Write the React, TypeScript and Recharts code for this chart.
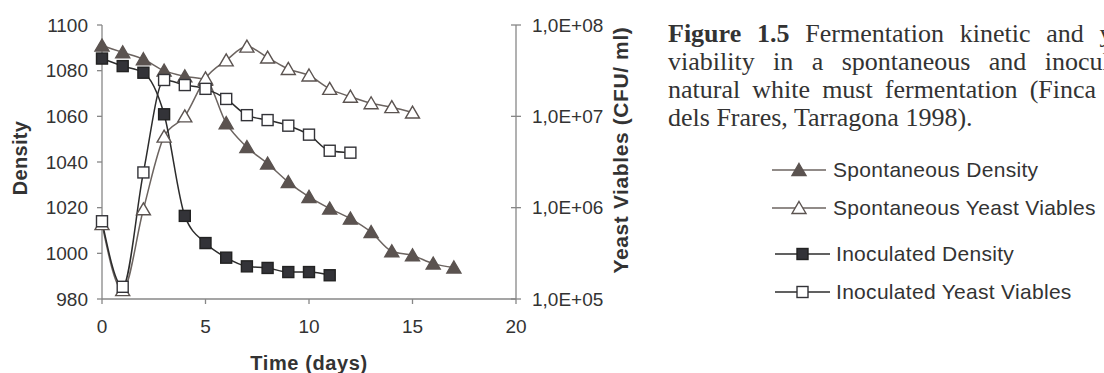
import { LineChart, Line, XAxis, YAxis, Legend } from "recharts";

// time axis (days)
const spDensityDays = [0, 1, 2, 3, 4, 5, 6, 7, 8, 9, 10, 11, 12, 13, 14, 15, 16, 17];
const spDensity = [1091, 1088, 1085, 1080, 1077.5, 1076, 1057, 1046.5, 1039.3, 1031.2, 1024.7, 1019.6, 1015.2, 1009.3, 1000.9, 999.1, 995.5, 993.8];

const spYeastDays = [0, 1, 2, 3, 4, 5, 6, 7, 8, 9, 10, 11, 12, 13, 14, 15];
const spYeast = [6.6e5, 1.25e5, 9.6e5, 6.0e6, 1.0e7, 2.6e7, 4.1e7, 5.8e7, 4.4e7, 3.3e7, 2.8e7, 2.0e7, 1.64e7, 1.39e7, 1.26e7, 1.1e7];

const inDensityDays = [0, 1, 2, 3, 4, 5, 6, 7, 8, 9, 10, 11];
const inDensity = [1085.3, 1082, 1079.1, 1060.9, 1016.4, 1004.5, 998.1, 994.3, 993.6, 991.8, 991.8, 990.4];

const inYeastDays = [0, 1, 2, 3, 4, 5, 6, 7, 8, 9, 10, 11, 12];
const inYeast = [7.1e5, 1.36e5, 2.43e6, 2.5e7, 2.2e7, 2.0e7, 1.55e7, 1.03e7, 9.1e6, 7.9e6, 6.3e6, 4.2e6, 4.0e6];

const xTicks = [0, 5, 10, 15, 20];
const densityTicks = [980, 1000, 1020, 1040, 1060, 1080, 1100];
const yeastTicks = [1e5, 1e6, 1e7, 1e8];

const captionLines = [
  "Fermentation kinetic and yeast",
  "viability in a spontaneous and inoculated",
  "natural white must fermentation (Finca Mas",
  "dels Frares, Tarragona 1998).",
];

const toRows = (days: number[], vals: number[]) => days.map((d, i) => ({ day: d, v: vals[i] }));

const SP = "#5b5350";
const SP_LINE = "#6c6460";
const IN = "#333338";
const IN_LINE = "#2c2c2c";
const AXIS = "#878787";
const TEXT = "#333";
const FONT = "'Liberation Sans', Arial, sans-serif";

type Shape = "tri" | "sq";

function Marker({ cx, cy, shape, filled, color }: { cx: number; cy: number; shape: Shape; filled: boolean; color: string }) {
  if (cx == null || cy == null) return null;
  if (shape === "tri") {
    return (
      <path
        d={`M${cx},${cy - 6.5} L${cx + 7},${cy + 5.5} L${cx - 7},${cy + 5.5} Z`}
        fill={filled ? color : "#fff"}
        stroke={color}
        strokeWidth={1.4}
      />
    );
  }
  return (
    <rect
      x={cx - 5.5}
      y={cy - 5.5}
      width={11}
      height={11}
      fill={filled ? color : "#fff"}
      stroke={filled ? "#222" : color}
      strokeWidth={1.4}
    />
  );
}

const dotFor = (name: string, shape: Shape, filled: boolean, color: string) => (p: any) => (
  <Marker key={`${name}-${p.index}`} cx={p.cx} cy={p.cy} shape={shape} filled={filled} color={color} />
);

const legendItems = [
  { label: "Spontaneous Density", shape: "tri" as Shape, filled: true, color: SP, line: SP_LINE, top: 170, x0: 772, x1: 826, tx: 833 },
  { label: "Spontaneous Yeast Viables", shape: "tri" as Shape, filled: false, color: SP, line: SP_LINE, top: 208, x0: 772, x1: 826, tx: 833 },
  { label: "Inoculated Density", shape: "sq" as Shape, filled: true, color: IN, line: IN_LINE, top: 254, x0: 775, x1: 830, tx: 836 },
  { label: "Inoculated Yeast Viables", shape: "sq" as Shape, filled: false, color: IN, line: IN_LINE, top: 292, x0: 775, x1: 830, tx: 836 },
];

function LegendBox() {
  return (
    <div style={{ position: "relative", width: 334, height: 170 }}>
      {legendItems.map((it) => {
        const cy = it.top - 150;
        const w = it.x1 - it.x0;
        return (
          <div key={it.label}>
            <svg style={{ position: "absolute", left: it.x0 - 770, top: cy - 10 }} width={w} height={20}>
              <line x1={0} x2={w} y1={10} y2={10} stroke={it.line} strokeWidth={1.5} />
              <Marker cx={w / 2} cy={10} shape={it.shape} filled={it.filled} color={it.color} />
            </svg>
            <span
              style={{
                position: "absolute",
                left: it.tx - 770,
                top: cy - 13,
                fontFamily: FONT,
                fontSize: 21,
                lineHeight: "25px",
                color: TEXT,
                whiteSpace: "nowrap",
                letterSpacing: 0.3,
              }}
            >
              {it.label}
            </span>
          </div>
        );
      })}
    </div>
  );
}

const RightTick = (p: any) => {
  const axisX = p.x - 16;
  const exp = Math.round(Math.log10(p.payload.value));
  return (
    <g>
      <line x1={axisX - 5} x2={axisX + 5} y1={p.y} y2={p.y} stroke={AXIS} strokeWidth={1.3} />
      <text x={p.x} y={p.y} dy="0.355em" textAnchor="start" fill={TEXT} fontSize={19} fontFamily={FONT}>
        {`1,0E+${String(exp).padStart(2, "0")}`}
      </text>
    </g>
  );
};

const rotatedTitle = (text: string, cx: number, cy: number, size: number, spacing: number) => (
  <text
    x={cx}
    y={cy}
    transform={`rotate(-90 ${cx} ${cy})`}
    textAnchor="middle"
    dominantBaseline="central"
    fontFamily={FONT}
    fontWeight="bold"
    fontSize={size}
    letterSpacing={spacing}
    fill={TEXT}
  >
    {text}
  </text>
);

export default function App() {
  return (
    <div style={{ position: "relative", width: 1104, height: 373, overflow: "hidden", background: "#fff" }}>
      <style>{`body{margin:0;overflow:hidden;}`}</style>
      <LineChart width={1104} height={373} margin={{ top: 25, right: 478, bottom: 0, left: 0 }}>
        <XAxis
          dataKey="day"
          type="number"
          domain={[0, 20]}
          ticks={xTicks}
          height={74}
          tickSize={5}
          tickMargin={16}
          stroke={AXIS}
          strokeWidth={1.3}
          tick={{ fill: TEXT, fontSize: 19, fontFamily: FONT }}
          label={(p: any) => {
            const vb = p.viewBox;
            return (
              <text
                x={vb.x + vb.width / 2}
                y={363}
                textAnchor="middle"
                dominantBaseline="central"
                fontFamily={FONT}
                fontWeight="bold"
                fontSize={20}
                letterSpacing={0.6}
                fill={TEXT}
              >
                Time (days)
              </text>
            );
          }}
        />
        <YAxis
          yAxisId="left"
          domain={[980, 1100]}
          ticks={densityTicks}
          width={102}
          tickSize={5}
          tickMargin={9}
          stroke={AXIS}
          strokeWidth={1.3}
          tick={{ fill: TEXT, fontSize: 19, fontFamily: FONT }}
          label={(p: any) => rotatedTitle("Density", 20, p.viewBox.y + p.viewBox.height / 2 - 4, 20, 0.3)}
        />
        <YAxis
          yAxisId="right"
          orientation="right"
          scale="log"
          domain={[1e5, 1e8]}
          ticks={yeastTicks}
          allowDataOverflow
          width={110}
          tickSize={0}
          tickMargin={16}
          tickLine={false}
          stroke={AXIS}
          strokeWidth={1.3}
          tick={RightTick}
          label={(p: any) => rotatedTitle("Yeast Viables (CFU/ ml)", 620, p.viewBox.y + p.viewBox.height / 2 - 12, 21, 0.6)}
        />
        <Legend
          layout="vertical"
          align="center"
          verticalAlign="middle"
          wrapperStyle={{ left: 770, top: 150, width: 334, height: 170 }}
          content={() => <LegendBox />}
        />
        <Line
          yAxisId="left"
          data={toRows(spDensityDays, spDensity)}
          dataKey="v"
          type="monotone"
          stroke={SP_LINE}
          strokeWidth={1.5}
          dot={dotFor("spd", "tri", true, SP)}
          isAnimationActive={false}
        />
        <Line
          yAxisId="right"
          data={toRows(spYeastDays, spYeast)}
          dataKey="v"
          type="monotone"
          stroke={SP_LINE}
          strokeWidth={1.5}
          dot={dotFor("spy", "tri", false, SP)}
          isAnimationActive={false}
        />
        <Line
          yAxisId="left"
          data={toRows(inDensityDays, inDensity)}
          dataKey="v"
          type="monotone"
          stroke={IN_LINE}
          strokeWidth={1.5}
          dot={dotFor("ind", "sq", true, IN)}
          isAnimationActive={false}
        />
        <Line
          yAxisId="right"
          data={toRows(inYeastDays, inYeast)}
          dataKey="v"
          type="monotone"
          stroke={IN_LINE}
          strokeWidth={1.5}
          dot={dotFor("iny", "sq", false, IN)}
          isAnimationActive={false}
        />
      </LineChart>
      <div
        style={{
          position: "absolute",
          left: 668,
          top: 20,
          width: 485,
          fontFamily: "'Liberation Serif', 'Times New Roman', serif",
          fontSize: 26,
          lineHeight: "28px",
          color: TEXT,
        }}
      >
        {captionLines.map((t, i) => (
          <div
            key={i}
            style={{ textAlign: i < 3 ? "justify" : "left", textAlignLast: i < 3 ? "justify" : "auto", whiteSpace: "nowrap" }}
          >
            {i === 0 ? (
              <>
                <b>Figure 1.5</b> {t}
              </>
            ) : (
              t
            )}
          </div>
        ))}
      </div>
    </div>
  );
}
